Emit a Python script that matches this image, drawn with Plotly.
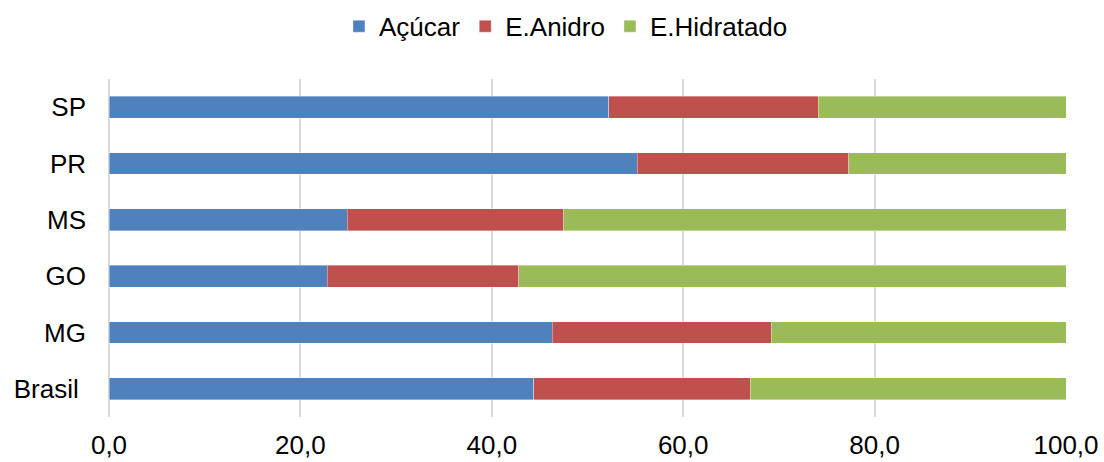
import plotly.graph_objects as go

categories = ["SP", "PR", "MS", "GO", "MG", "Brasil"]
category_labels = ["SP", "PR", "MS", "GO", "MG", "Brasil\u00a0"]
acucar = [52.2, 55.2, 24.9, 22.8, 46.3, 44.4]
anidro = [21.9, 22.1, 22.6, 20.0, 22.9, 22.6]
hidratado = [25.9, 22.7, 52.5, 57.2, 30.8, 33.0]
series_names = ["Açúcar", "E.Anidro", "E.Hidratado"]
colors = ["#4F81BD", "#C0504D", "#9BBB59"]
x_ticks = [0, 20, 40, 60, 80, 100]

fig = go.Figure()
for name, vals, col in zip(series_names, [acucar, anidro, hidratado], colors):
    fig.add_trace(go.Bar(
        y=categories, x=vals, name=name, orientation="h",
        marker=dict(color=col, line=dict(color="rgba(255,255,255,0.6)", width=0.6)),
        hoverinfo="skip",
    ))

font_family = "Liberation Sans, Arial, sans-serif"
fig.update_layout(
    barmode="stack",
    bargap=0.61,
    width=1104, height=462,
    margin=dict(l=109, r=38, t=79, b=45, autoexpand=False),
    paper_bgcolor="white", plot_bgcolor="white",
    font=dict(family=font_family, size=26, color="#000000"),
    separators=",.",
    showlegend=True,
    legend=dict(
        orientation="h", x=0.4775, xanchor="center",
        yref="container", y=0.943, yanchor="middle",
        font=dict(size=26, color="#000000"),
        itemwidth=30, traceorder="normal",
        bgcolor="rgba(0,0,0,0)",
    ),
    xaxis=dict(
        range=[0, 100], tickvals=x_ticks, tickformat=".1f",
        showgrid=True, gridcolor="#D9D9D9", gridwidth=1.5,
        zeroline=True, zerolinecolor="#D9D9D9", zerolinewidth=1.5,
        showline=False, ticks="", ticklabelstandoff=10,
        tickfont=dict(size=26, color="#000000"),
        automargin=False, fixedrange=True,
    ),
    yaxis=dict(
        autorange="reversed", showgrid=False, zeroline=False,
        showline=False, ticks="", ticklabelstandoff=22,
        tickvals=categories, ticktext=category_labels,
        tickfont=dict(size=26, color="#000000"),
        automargin=False, fixedrange=True,
    ),
)

fig.write_html("out.html")
